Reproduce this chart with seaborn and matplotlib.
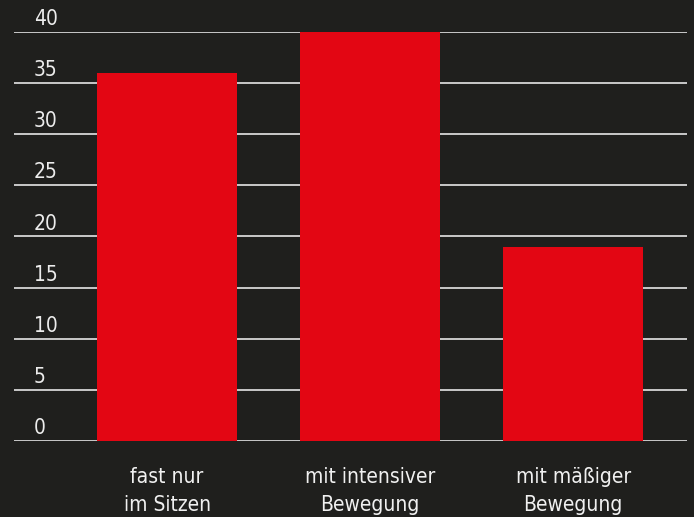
import matplotlib
matplotlib.use('Agg')
import matplotlib.pyplot as plt
import matplotlib.transforms as mtransforms
import seaborn as sns

# data
categories = ['fast nur\nim Sitzen', 'mit intensiver\nBewegung', 'mit mäßiger\nBewegung']
values = [36, 40, 19]
y_ticks = [0, 5, 10, 15, 20, 25, 30, 35, 40]

bg = '#1f1f1d'
red = '#e30613'

sns.set_style('dark')
plt.rcParams['font.family'] = ['DejaVu Sans']
plt.rcParams['font.stretch'] = 'condensed'

fig = plt.figure(figsize=(6.94, 5.17), dpi=100, facecolor=bg)
ax = fig.add_axes([14 / 694, 76 / 517, 673 / 694, 409 / 517])
ax.set_facecolor(bg)

sns.barplot(x=categories, y=values, color=red, saturation=1, width=0.69,
            linewidth=0, ax=ax, zorder=2)

ax.set_ylim(0, 40)
ax.set_xlim(-0.754, 2.56)
ax.set_yticks(y_ticks)
ax.grid(False)
for v in y_ticks:
    ax.axhline(v, color='#e6e6e6', lw=1.2, zorder=1)

for s in ax.spines.values():
    s.set_visible(False)

# y labels sit above each gridline at the left
ax.tick_params(axis='y', left=False, labelleft=False)
trans = mtransforms.offset_copy(ax.get_yaxis_transform(), fig=fig, x=0, y=5, units='points')
for v in y_ticks:
    ax.text(20 / 673, v, str(v), transform=trans, ha='left', va='baseline',
            color='#ececec', fontsize=15, clip_on=False)

ax.tick_params(axis='x', bottom=False, pad=15, labelsize=15, labelcolor='#f0f0f0')
for lab in ax.get_xticklabels():
    lab.set_linespacing(1.5)
ax.set_xlabel('')
ax.set_ylabel('')

fig.savefig('out.png', dpi=100, facecolor=bg)
